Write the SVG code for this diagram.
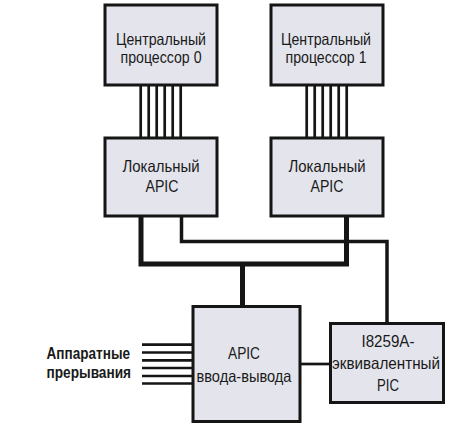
<svg xmlns="http://www.w3.org/2000/svg" width="457" height="436" viewBox="0 0 457 436">
<style>
.box{fill:#e4e4ec;stroke:#151515;stroke-width:3}
.t{font-family:"Liberation Sans",Arial,sans-serif;font-size:16.5px;fill:#1a1a1a;text-anchor:middle}
.lbl{font-family:"Liberation Sans",Arial,sans-serif;font-size:16px;font-weight:bold;fill:#1a1a1a}
.thick{fill:none;stroke:#151515;stroke-width:5}
.thin{fill:none;stroke:#151515;stroke-width:3.5}
.bus{stroke:#151515;stroke-width:2.7}
</style>
<rect width="457" height="436" fill="#ffffff"/>
<g id="connectors">
<g id="bus0" class="bus">
<line x1="140.7" y1="86" x2="140.7" y2="137"/>
<line x1="148.7" y1="86" x2="148.7" y2="137"/>
<line x1="156.7" y1="86" x2="156.7" y2="137"/>
<line x1="164.7" y1="86" x2="164.7" y2="137"/>
<line x1="172.7" y1="86" x2="172.7" y2="137"/>
<line x1="180.7" y1="86" x2="180.7" y2="137"/>
</g>
<g id="bus1" class="bus">
<line x1="306.7" y1="86" x2="306.7" y2="137"/>
<line x1="314.7" y1="86" x2="314.7" y2="137"/>
<line x1="322.7" y1="86" x2="322.7" y2="137"/>
<line x1="330.7" y1="86" x2="330.7" y2="137"/>
<line x1="338.7" y1="86" x2="338.7" y2="137"/>
<line x1="346.7" y1="86" x2="346.7" y2="137"/>
</g>
<path class="thick" d="M141,217 V264 H346.5 V217"/>
<path class="thick" d="M242.5,264 V305"/>
<path class="thin" d="M181.5,217 V241.5 H387 V322"/>
<line class="bus" x1="300" y1="364" x2="330" y2="364"/>
<g id="irq" class="bus">
<line x1="142" y1="344.7" x2="192" y2="344.7"/>
<line x1="142" y1="352.5" x2="192" y2="352.5"/>
<line x1="142" y1="360.3" x2="192" y2="360.3"/>
<line x1="142" y1="368" x2="192" y2="368"/>
<line x1="142" y1="376" x2="192" y2="376"/>
<line x1="142" y1="383.5" x2="192" y2="383.5"/>
</g>
</g>
<g id="cpu0">
<rect class="box" x="105" y="5" width="112" height="80"/>
<text class="t" x="161" y="44.5" textLength="90" lengthAdjust="spacingAndGlyphs">Центральный</text>
<text class="t" x="161" y="62.5" textLength="81" lengthAdjust="spacingAndGlyphs">процессор 0</text>
</g>
<g id="cpu1">
<rect class="box" x="271" y="5" width="112" height="80"/>
<text class="t" x="326" y="44.5" textLength="90" lengthAdjust="spacingAndGlyphs">Центральный</text>
<text class="t" x="326" y="62.5" textLength="81" lengthAdjust="spacingAndGlyphs">процессор 1</text>
</g>
<g id="lapic0">
<rect class="box" x="105" y="138" width="112" height="78"/>
<text class="t" x="161" y="172" textLength="77" lengthAdjust="spacingAndGlyphs">Локальный</text>
<text class="t" x="162" y="192" textLength="33" lengthAdjust="spacingAndGlyphs">APIC</text>
</g>
<g id="lapic1">
<rect class="box" x="271" y="138" width="112" height="78"/>
<text class="t" x="327" y="172" textLength="77" lengthAdjust="spacingAndGlyphs">Локальный</text>
<text class="t" x="327" y="192" textLength="33" lengthAdjust="spacingAndGlyphs">APIC</text>
</g>
<g id="ioapic">
<rect class="box" x="193" y="306.5" width="107" height="115"/>
<text class="t" x="244" y="359" textLength="32" lengthAdjust="spacingAndGlyphs">APIC</text>
<text class="t" x="244" y="381.5" textLength="95" lengthAdjust="spacingAndGlyphs">ввода-вывода</text>
</g>
<g id="pic">
<rect class="box" x="330.5" y="323.5" width="113" height="79"/>
<text class="t" x="388" y="347" textLength="53" lengthAdjust="spacingAndGlyphs">I8259A-</text>
<text class="t" x="386" y="368.5" textLength="108" lengthAdjust="spacingAndGlyphs">эквивалентный</text>
<text class="t" x="388" y="391" textLength="22" lengthAdjust="spacingAndGlyphs">PIC</text>
</g>
<g id="hwlabel">
<text class="lbl" x="46.5" y="359.3" textLength="83.5" lengthAdjust="spacingAndGlyphs">Аппаратные</text>
<text class="lbl" x="46.5" y="378" textLength="84.5" lengthAdjust="spacingAndGlyphs">прерывания</text>
</g>
</svg>
